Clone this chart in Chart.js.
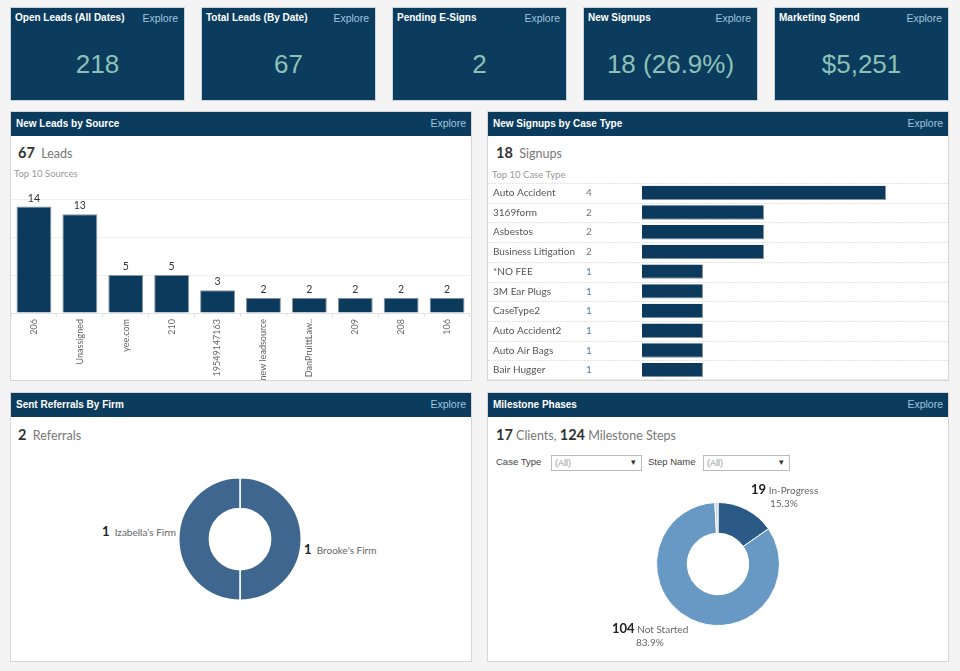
<!DOCTYPE html>
<html lang="en">
<head>
<meta charset="UTF-8">
<title>Dashboard</title>
<script src="https://cdn.jsdelivr.net/npm/chart.js@4.4.1/dist/chart.umd.min.js"></script>
<style>
* { margin: 0; padding: 0; box-sizing: border-box; }
body {
  width: 960px; height: 671px; position: relative; overflow: hidden;
  background: #f4f4f4; font-family: "Lato", sans-serif;
}
.tile, .panel { position: absolute; }
.tile { background: #0b3c5d; border: 1px solid #c9d3dc; width: 175px; height: 94px; top: 7px; }
.tile .t, .panel .hd .t {
  position: absolute; left: 4px; top: 4px; color: #fff;
  font: bold 10px "Liberation Sans", Arial, sans-serif;
}
.tile .e, .panel .hd .e {
  position: absolute; right: 6px; top: 4px; color: #9fc4df;
  font: 10.5px "Liberation Sans", Arial, sans-serif;
}
.tile .v {
  position: absolute; left: 0; right: 0; top: 41px; text-align: center;
  color: #8ec0b6; font: 26px "Liberation Sans", Arial, sans-serif;
}
.panel { background: #fff; border: 1px solid #d6d6d6; width: 462px; height: 270px; }
.panel .hd { position: absolute; left: 0; top: 0; right: 0; height: 24px; background: #0b3c5d; }
.panel .hd .t { left: 5px; top: 6px; }
.panel .hd .e { right: 5px; top: 5px; }
.big { position: absolute; font-size: 12.5px; color: #777; }
.big b { font-size: 14.5px; color: #333; font-weight: bold; }
.sub { position: absolute; font-size: 9.5px; color: #999; }
.lbl { position: absolute; font-size: 10px; color: #666; white-space: nowrap; }
.lbl b { font-size: 13px; color: #222; }
.flt { position: absolute; font: 9.5px "Liberation Sans", Arial, sans-serif; color: #444; }
.dd {
  position: absolute; height: 16px; border: 1px solid #bbb; background: #fff;
  font: 9px "Liberation Sans", Arial, sans-serif; color: #999; padding: 2px 3px;
}
.dd:after { content: "\25BE"; position: absolute; right: 5px; top: 1px; color: #333; font-size: 9px; }
canvas { position: absolute; }
</style>
</head>
<body>

<div class="tile" style="left:10px"><div class="t">Open Leads (All Dates)</div><div class="e">Explore</div><div class="v" id="k0"></div></div>
<div class="tile" style="left:201px"><div class="t">Total Leads (By Date)</div><div class="e">Explore</div><div class="v" id="k1"></div></div>
<div class="tile" style="left:392px"><div class="t">Pending E-Signs</div><div class="e">Explore</div><div class="v" id="k2"></div></div>
<div class="tile" style="left:583px"><div class="t">New Signups</div><div class="e">Explore</div><div class="v" id="k3"></div></div>
<div class="tile" style="left:774px"><div class="t">Marketing Spend</div><div class="e">Explore</div><div class="v" id="k4"></div></div>

<div class="panel" style="left:10px; top:111px">
  <div class="hd"><div class="t">New Leads by Source</div><div class="e">Explore</div></div>
  <div class="big" style="left:7px; top:32px"><b>67</b>&nbsp; Leads</div>
  <div class="sub" style="left:3px; top:56px">Top 10 Sources</div>
</div>
<div class="panel" style="left:487px; top:111px">
  <div class="hd"><div class="t">New Signups by Case Type</div><div class="e">Explore</div></div>
  <div class="big" style="left:8px; top:32px"><b>18</b>&nbsp; Signups</div>
  <div class="sub" style="left:4px; top:57px">Top 10 Case Type</div>
</div>
<div class="panel" style="left:10px; top:392px">
  <div class="hd"><div class="t">Sent Referrals By Firm</div><div class="e">Explore</div></div>
  <div class="big" style="left:7px; top:33px"><b>2</b>&nbsp; Referrals</div>
</div>
<div class="panel" style="left:487px; top:392px">
  <div class="hd"><div class="t">Milestone Phases</div><div class="e">Explore</div></div>
  <div class="big" style="left:8px; top:33px"><b>17</b> Clients, <b>124</b> Milestone Steps</div>
  <div class="flt" style="left:8px; top:63px">Case Type</div>
  <div class="dd" style="left:63px; top:62px; width:91px">(All)</div>
  <div class="flt" style="left:160px; top:63px">Step Name</div>
  <div class="dd" style="left:215px; top:62px; width:87px">(All)</div>
</div>

<canvas id="leads" style="left:11px; top:185px; width:459px; height:195px"></canvas>
<canvas id="signups" style="left:488px; top:182px; width:460px; height:199px"></canvas>
<canvas id="referrals" style="left:178px; top:477px; width:124px; height:124px"></canvas>
<canvas id="milestones" style="left:656px; top:502px; width:124px; height:124px"></canvas>

<div class="lbl" id="refL" style="left:102px; top:523px"></div>
<div class="lbl" id="refR" style="left:304px; top:541px"></div>
<div class="lbl" id="msA" style="left:751px; top:481px"></div>
<div class="lbl" id="msB" style="left:612px; top:620px"></div>

<script>
const kpiValues = ["218", "67", "2", "18 (26.9%)", "$5,251"];

const sourceLabels = ["206", "Unassigned", "yee.com", "210", "19549147163", "new leadsource", "DanPruittLaw..", "209", "208", "106"];
const sourceValues = [14, 13, 5, 5, 3, 2, 2, 2, 2, 2];

const caseTypes = ["Auto Accident", "3169form", "Asbestos", "Business Litigation", "*NO FEE", "3M Ear Plugs", "CaseType2", "Auto Accident2", "Auto Air Bags", "Bair Hugger"];
const caseValues = [4, 2, 2, 2, 1, 1, 1, 1, 1, 1];

const firms = ["Brooke's Firm", "Izabella's Firm"];
const firmValues = [1, 1];

const phases = ["In-Progress", "Not Started", "Completed"];
const phaseValues = [19, 104, 1];

const navy = "#0b3a5c";

kpiValues.forEach((v, i) => { document.getElementById("k" + i).textContent = v; });

// numbers above the columns
const topLabels = {
  id: "topLabels",
  afterDatasetsDraw(chart) {
    const ctx = chart.ctx;
    ctx.save();
    ctx.font = "10.5px Lato";
    ctx.fillStyle = "#333";
    ctx.textAlign = "center";
    ctx.textBaseline = "bottom";
    chart.getDatasetMeta(0).data.forEach((bar, i) => {
      ctx.fillText(sourceValues[i], bar.x, bar.y - 3);
    });
    ctx.restore();
  }
};

new Chart(document.getElementById("leads"), {
  type: "bar",
  plugins: [topLabels],
  data: {
    labels: sourceLabels,
    datasets: [{
      data: sourceValues,
      backgroundColor: navy,
      borderColor: "#8a97a3",
      borderWidth: 1,
      barPercentage: 0.76,
      categoryPercentage: 1
    }]
  },
  options: {
    responsive: false,
    animation: false,
    layout: { padding: { top: 14, left: 0, right: 0, bottom: 0 } },
    plugins: { legend: { display: false }, tooltip: { enabled: false } },
    scales: {
      x: {
        afterFit: (s) => { s.height = 67; },
        ticks: { minRotation: 90, maxRotation: 90, color: "#666", font: { family: "Lato", size: 9 }, padding: 2 },
        grid: { offset: true, drawOnChartArea: false, tickLength: 4, color: "#e2e2e2" },
        border: { color: "#e2e2e2" }
      },
      y: {
        min: 0, max: 15,
        afterFit: (s) => { s.width = 0; },
        ticks: { display: false, stepSize: 5 },
        grid: { color: "#f0f0f0", drawTicks: false },
        border: { display: false }
      }
    }
  }
});

// case type names, counts and row separators
const rowText = {
  id: "rowText",
  afterDraw(chart) {
    const ctx = chart.ctx;
    const ys = chart.scales.y;
    const step = ys.getPixelForValue(1) - ys.getPixelForValue(0);
    ctx.save();
    ctx.font = "10px Lato";
    ctx.textBaseline = "middle";
    ctx.strokeStyle = "#e4e4e4";
    ctx.setLineDash([2, 1]);
    ctx.lineWidth = 1;
    caseTypes.forEach((name, i) => {
      const y = ys.getPixelForValue(i);
      ctx.fillStyle = "#555";
      ctx.fillText(name, 5, y);
      ctx.fillStyle = caseValues[i] === 1 ? "#4f7fb0" : "#777";
      ctx.fillText(caseValues[i], 98, y);
      const yb = Math.round(y - step / 2) + 0.5;
      ctx.beginPath(); ctx.moveTo(0, yb); ctx.lineTo(chart.width, yb); ctx.stroke();
    });
    const yl = Math.round(ys.getPixelForValue(caseTypes.length - 1) + step / 2) - 0.5;
    ctx.beginPath(); ctx.moveTo(0, yl); ctx.lineTo(chart.width, yl); ctx.stroke();
    ctx.restore();
  }
};

new Chart(document.getElementById("signups"), {
  type: "bar",
  plugins: [rowText],
  data: {
    labels: caseTypes,
    datasets: [{
      data: caseValues,
      backgroundColor: navy,
      borderColor: "#8a97a3",
      borderWidth: { top: 0, bottom: 1, right: 1, left: 0 },
      barPercentage: 0.73,
      categoryPercentage: 1
    }]
  },
  options: {
    indexAxis: "y",
    responsive: false,
    animation: false,
    layout: { padding: { top: 1, bottom: 1, left: 154, right: 1 } },
    plugins: { legend: { display: false }, tooltip: { enabled: false } },
    scales: {
      x: { display: false, min: 0, max: 5 },
      y: { display: false }
    }
  }
});

new Chart(document.getElementById("referrals"), {
  type: "doughnut",
  data: {
    labels: firms,
    datasets: [{ data: firmValues, backgroundColor: "#3e668f", borderColor: "#ffffff", borderWidth: 1.5 }]
  },
  options: {
    responsive: false,
    animation: false,
    cutout: "50%",
    plugins: { legend: { display: false }, tooltip: { enabled: false } }
  }
});

new Chart(document.getElementById("milestones"), {
  type: "doughnut",
  data: {
    labels: phases,
    datasets: [{
      data: phaseValues,
      backgroundColor: ["#2c5a86", "#6899c4", "#c6d6e6"],
      borderColor: "#ffffff",
      borderWidth: 1
    }]
  },
  options: {
    responsive: false,
    animation: false,
    cutout: "50%",
    plugins: { legend: { display: false }, tooltip: { enabled: false } }
  }
});

const total = phaseValues.reduce((a, b) => a + b, 0);
const pct = (v) => (v / total * 100).toFixed(1) + "%";
document.getElementById("refL").innerHTML = "<b>" + firmValues[1] + "</b>&nbsp; " + firms[1];
document.getElementById("refR").innerHTML = "<b>" + firmValues[0] + "</b>&nbsp; " + firms[0];
document.getElementById("msA").innerHTML = "<b>" + phaseValues[0] + "</b> " + phases[0] +
  "<div style='margin-left:19px'>" + pct(phaseValues[0]) + "</div>";
document.getElementById("msB").innerHTML = "<b>" + phaseValues[1] + "</b> " + phases[1] +
  "<div style='margin-left:24px'>" + pct(phaseValues[1]) + "</div>";
</script>
</body>
</html>
